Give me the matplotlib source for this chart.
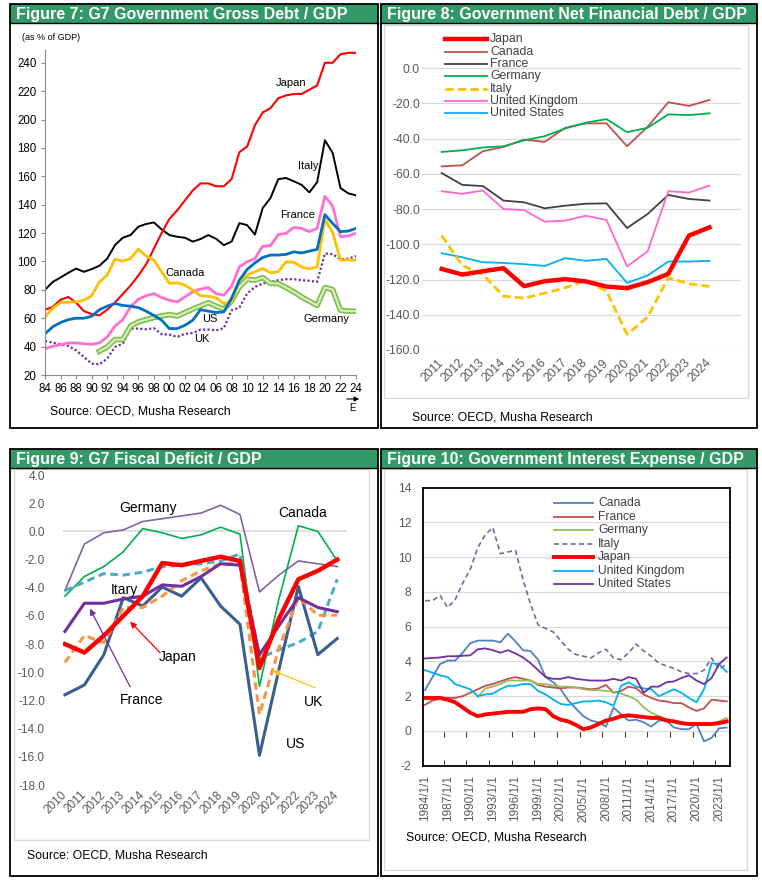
import numpy as np
import matplotlib
matplotlib.use("Agg")
import matplotlib.pyplot as plt
from matplotlib.patches import Rectangle
from matplotlib.lines import Line2D
import matplotlib.patheffects as pe

plt.rcParams["font.family"] = ["Liberation Sans", "DejaVu Sans"]
plt.rcParams["axes.unicode_minus"] = False

GREEN = "#339966"
GRID = "#D9D9D9"
TICK = "#595959"

# ---------------- data ----------------
# Figure 7: gross debt / GDP, 1984-2024
years7 = np.arange(1984, 2025)
japan7 = [66, 68, 73, 75, 71, 65, 63, 62, 66, 71, 77, 83, 90, 98,
          109, 120, 130, 136, 143, 150, 155, 155, 153, 153, 158, 177, 181, 196, 205,
          208, 215, 217, 218, 218, 221, 224, 240, 240, 246, 247, 247]
italy7 = [80, 85.6, 88.7, 92, 95, 92.7, 94.6, 97, 102, 111.5, 116.7, 118.6, 124.5, 126.4,
          127.5, 122.6, 118.6, 117.4, 116.7, 114, 115.8, 118.6, 116, 111.5, 114, 127, 125.6, 119,
          137.6, 144.7, 158, 158.8, 156.5, 154, 148.7, 155.8, 185.4, 176.5, 151.8, 148, 146.6]
canada7 = [61, 67, 71, 71.3, 71.5, 72.7, 75.8, 85.6, 90.4, 101.6,
           100.2, 102, 108.7, 103.8, 101, 92.7, 84.5, 85, 83.3, 79.8,
           75.8, 75.5, 74.4, 70.4, 71.5, 86.8, 90.4, 92.7, 95, 92,
           92.7, 99.8, 99.5, 96.2, 94.8, 96.2, 129.6, 120.5, 101, 101, 101]
us7 = [49, 54, 57, 59, 60, 60, 61.4, 66, 68.5, 70.4,
       69, 68.5, 67.5, 65, 62, 58.6, 52.7, 52.7, 55, 58.6,
       66, 65, 64, 64.5, 74, 86.8, 94.4, 99, 102.8, 104.5,
       104.5, 105, 106.8, 106, 107.3, 108.5, 133, 126.8, 121, 121.4, 123.3]
france7 = [38.6, 40.2, 41.4, 42.6, 42.6, 42, 41.6, 42.6, 46.8, 54.4,
           59, 68, 73.4, 75.8, 77.4, 74.6, 72.7, 71.5, 75, 78.6,
           80.5, 81.6, 77.4, 76.2, 82.6, 96.2, 99.8, 102, 110.8, 111,
           119, 119.8, 124, 123.3, 121, 123.3, 145.9, 139, 117.4, 118, 119.8]
germany7 = [np.nan] * 7 + [36.7, 39.8, 45, 45, 54.4, 57.4, 59, 60.5, 61.6, 62.6,
                           61.6, 64, 66.4, 68.7, 71, 68.5, 66.4, 72.2, 82, 87.5,
                           86.8, 88.7, 84.5, 84.5, 81.6, 78.6, 75, 72, 69, 81.6,
                           80.2, 65.6, 65, 65]
uk7 = [44, 42.8, 41.6, 40.5, 37.4, 32.7, 28, 27.5, 31.5, 39.8,
       42, 52.7, 52.7, 52.2, 53, 48.7, 48.5, 46.8, 49, 49.6,
       52, 52, 51.5, 53, 65.6, 67.5, 77.4, 82, 84.5, 85.6,
       86.8, 87.5, 87.5, 86.8, 86.4, 85.6, 105.6, 105.2, 101.4, 102, 103.8]

# Figure 8: net financial debt / GDP, 2011-2024
years8 = [str(y) for y in range(2011, 2025)]
japan8 = [-114, -117.2, -115.3, -113.6, -123.8, -121, -119.8, -121.1, -124, -124.9, -121.5, -116.8, -95.1, -90.4]
canada8 = [-55.8, -55.2, -47.2, -44.8, -40.6, -41.9, -33.9, -31.4, -31.4, -44.4, -33.3, -19.4, -21.5, -18.1]
france8 = [-59.6, -66.3, -67, -75.2, -76.2, -79.6, -78.1, -77, -76.8, -90.8, -82.8, -72, -74.3, -75.2]
germany8 = [-47.6, -46.7, -45.1, -44.4, -41, -38.7, -34.3, -31, -29, -36.4, -33.9, -26.3, -26.7, -25.7]
italy8 = [-95.1, -112.1, -117.2, -129.4, -130.6, -127.7, -124.7, -120.6, -126.6, -151.1, -141.3, -119, -122.4, -123.9]
uk8 = [-69.9, -71.4, -69.5, -80, -80.6, -87.2, -86.6, -83.8, -86.2, -112.6, -104, -69.9, -70.7, -66.7]
us8 = [-105.1, -107.4, -110.2, -110.6, -111.3, -112.3, -107.9, -109.4, -108.3, -121.9, -117.7, -109.8, -109.8, -109.4]

# Figure 9: fiscal balance / GDP, 2010-2024
years9 = [str(y) for y in range(2010, 2025)]
germany9 = [-4.2, -0.9, -0.1, 0.1, 0.7, 0.9, 1.1, 1.3, 1.85, 1.2, -4.3, -3.1, -2.1, -2.3, -2.5]
canada9 = [-4.6, -3.2, -2.5, -1.45, 0.2, -0.1, -0.5, -0.25, 0.3, -0.2, -11.0, -4.8, 0.4, 0.0, -2.1]
italy9 = [-4.2, -3.6, -3.0, -3.1, -2.9, -2.5, -2.4, -2.3, -2.1, -1.6, -9.0, -8.4, -7.9, -7.1, -3.4]
uk9 = [-9.3, -7.4, -7.9, -5.4, -5.4, -4.6, -3.5, -2.8, -2.3, -2.3, -13.0, -8.3, -4.7, -5.95, -5.95]
us9 = [-11.6, -10.9, -8.75, -4.7, -5.3, -3.95, -4.6, -3.3, -5.3, -6.6, -15.9, -9.8, -3.9, -8.75, -7.6]
france9 = [-7.1, -5.1, -5.1, -4.8, -4.6, -3.8, -3.9, -3.2, -2.3, -2.4, -8.75, -6.7, -4.7, -5.4, -5.7]
japan9 = [-8.0, -8.6, -7.4, -6.0, -4.6, -2.25, -2.4, -2.1, -1.8, -2.1, -9.7, -6.2, -3.4, -2.8, -2.0]

# Figure 10: interest expense / GDP, 1984-2024
years10 = np.arange(1984, 2025)
canada10 = [2.35, 3.1, 3.85, 4.05, 4.05, 4.5, 5.05, 5.2, 5.2, 5.2,
            5.1, 5.6, 5.15, 4.65, 4.6, 4.1, 3.1, 2.8, 2.4, 1.75,
            1.3, 0.85, 0.6, 0.5, 0.25, 1.35, 0.95, 0.6, 0.65, 0.5,
            0.25, 0.6, 0.6, 0.2, 0.1, 0.1, 0.4, -0.6, -0.4, 0.15, 0.2]
france10 = [1.5, 1.75, 1.85, 1.9, 1.9, 2.0, 2.2, 2.4, 2.6, 2.7,
            2.85, 3.0, 3.1, 3.0, 2.9, 2.65, 2.55, 2.5, 2.45, 2.5,
            2.5, 2.45, 2.4, 2.45, 2.65, 2.2, 2.3, 2.55, 2.45, 2.1,
            1.9, 1.75, 1.7, 1.6, 1.6, 1.35, 1.15, 1.3, 1.8, 1.75, 1.7]
germany10 = [np.nan] * 7 + [1.95, 2.45, 2.55, 2.7, 2.9, 2.9, 2.9, 2.9, 2.7, 2.7,
                            2.6, 2.55, 2.55, 2.5, 2.4, 2.35, 2.35, 2.3, 2.25, 2.15,
                            2.0, 1.8, 1.35, 1.05, 0.85, 0.7, 0.6, 0.5, 0.4, 0.35,
                            0.35, 0.4, 0.55, 0.75]
italy10 = [7.5, 7.5, 7.8, 7.1, 7.55, 8.5, 9.3, 10.55, 11.3, 11.7,
           10.2, 10.3, 10.4, 8.7, 7.3, 6.1, 5.9, 5.7, 5.2, 4.7,
           4.4, 4.3, 4.2, 4.5, 4.7, 4.2, 4.1, 4.5, 5.0, 4.6,
           4.3, 3.9, 3.75, 3.6, 3.4, 3.3, 3.3, 3.5, 4.2, 3.55, 3.85]
japan10 = [1.9, 1.9, 1.9, 1.8, 1.65, 1.35, 1.05, 0.85, 0.95, 1.0,
           1.05, 1.1, 1.1, 1.1, 1.25, 1.3, 1.25, 0.85, 0.65, 0.55,
           0.35, 0.1, 0.2, 0.4, 0.6, 0.7, 0.85, 0.9, 0.85, 0.8,
           0.75, 0.75, 0.6, 0.55, 0.45, 0.4, 0.4, 0.4, 0.4, 0.45, 0.55]
uk10 = [3.5, 3.35, 3.2, 3.1, 2.7, 2.55, 2.4, 2.0, 2.1, 2.15,
        2.4, 2.6, 2.6, 2.7, 2.7, 2.3, 2.1, 1.8, 1.55, 1.5,
        1.6, 1.7, 1.7, 1.75, 1.65, 1.45, 2.6, 2.8, 2.55, 2.45,
        2.4, 2.0, 2.2, 2.4, 2.2, 1.9, 1.65, 2.4, 3.9, 3.85, 3.4]
us10 = [4.17, 4.2, 4.23, 4.3, 4.3, 4.33, 4.35, 4.7, 4.75, 4.65,
        4.5, 4.65, 4.46, 4.23, 3.9, 3.5, 3.1, 3.0, 3.0, 3.1,
        3.0, 2.95, 2.9, 2.9, 2.9, 3.0, 2.9, 3.1, 3.0, 2.2,
        2.55, 2.55, 2.8, 2.85, 3.05, 3.2, 2.9, 2.7, 3.05, 3.85, 4.23]

# ---------------- layout helpers (pixel coords, origin top-left) ----------------
W, H = 762., 880.
fig = plt.figure(figsize=(W / 100, H / 100), dpi=100)


def box(l, t, r, b):
    return [l / W, 1 - b / H, (r - l) / W, (b - t) / H]


def fx(x):
    return x / W


def fy(y):
    return 1 - y / H


def rect(l, t, r, b, ec="none", lw=0, fc="none"):
    fig.add_artist(Rectangle((fx(l), fy(b)), (r - l) / W, (b - t) / H,
                             transform=fig.transFigure, fc=fc, ec=ec, lw=lw))


def panel(l, t, r, b, title):
    rect(l, t, r, t + 19, fc=GREEN)
    fig.add_artist(Line2D([fx(l), fx(r)], [fy(t + 19), fy(t + 19)],
                          transform=fig.transFigure, color="black", lw=1))
    rect(l, t, r, b, ec="black", lw=1.3)
    fig.text(fx(l + 6), fy(t + 10), title, color="white", fontsize=11.5,
             fontweight="bold", va="center", ha="left")


def legend_rows(entries, x0, x1, xt, y0, dy, size):
    for i, (label, st) in enumerate(entries):
        y = fy(y0 + i * dy)
        fig.add_artist(Line2D([fx(x0), fx(x1)], [y, y], transform=fig.transFigure, **st))
        fig.text(fx(xt), y, label, va="center", ha="left", fontsize=size, color="#404040")


def source(x, y):
    fig.text(fx(x), fy(y), "Source: OECD, Musha Research", fontsize=8.8,
             va="center", ha="left", color="black")


panel(9.5, 4.5, 378, 428, "Figure 7: G7 Government Gross Debt / GDP")
panel(381, 4.5, 757, 428, "Figure 8: Government Net Financial Debt / GDP")
panel(9.5, 449, 378, 875.5, "Figure 9: G7 Fiscal Deficit / GDP")
panel(381, 449, 757, 875.5, "Figure 10: Government Interest Expense / GDP")
rect(384, 25, 748, 398, ec=GRID, lw=1)
rect(14, 469, 369, 840, ec=GRID, lw=1)
rect(384, 469, 747, 870, ec=GRID, lw=1)

# ---------------- Figure 7 ----------------
ax7 = fig.add_axes(box(45, 50, 356, 375))
ax7.patch.set_alpha(0)
ax7.plot(years7, italy7, color="black", lw=1.4)
ax7.plot(years7, japan7, color="#FF0000", lw=1.5)
ax7.plot(years7, uk7, color="#7030A0", lw=1.6, ls=(0, (1, 1)))
ax7.plot(years7, germany7, color="#D6EEBB", lw=1.6,
         path_effects=[pe.Stroke(linewidth=4, foreground="#7DBE4B"), pe.Normal()])
ax7.plot(years7, france7, color="#FF6FCF", lw=2)
ax7.plot(years7, canada7, color="#FFC000", lw=2)
ax7.plot(years7, us7, color="#0070C0", lw=2)
ax7.set_xlim(1984, 2024)
ax7.set_ylim(20, 249)
ax7.set_xticks(years7[::2])
ax7.set_xticklabels([f"{y % 100:02d}" for y in years7[::2]])
ax7.set_yticks(np.arange(20, 241, 20))
for s in ["top", "right"]:
    ax7.spines[s].set_visible(False)
for s in ["left", "bottom"]:
    ax7.spines[s].set_color("#8C8C8C")
ax7.tick_params(labelsize=8.3, length=3, color="#8C8C8C", pad=3)
for txt, x, y in [("Japan", 2015.7, 225.6), ("Italy", 2017.8, 167), ("France", 2016.5, 133),
                  ("Canada", 2002, 91.8), ("US", 2005.2, 59.4), ("UK", 2004.2, 45.4),
                  ("Germany", 2020.2, 59.4)]:
    ax7.text(x, y, txt, fontsize=8, ha="center", va="center")
fig.text(fx(22), fy(38), "(as % of GDP)", fontsize=6.5, va="center", ha="left")
fig.text(fx(352), fy(408), "E", fontsize=7, va="center", ha="center")
fig.add_artist(matplotlib.patches.FancyArrowPatch((fx(344), fy(399)), (fx(362), fy(399)),
                                                  transform=fig.transFigure, arrowstyle="-|>",
                                                  mutation_scale=7, color="black", lw=0.8))
source(50, 411)

# ---------------- Figure 8 ----------------
st8 = {
    "Japan": dict(color="#FF0000", lw=3.2),
    "Canada": dict(color="#C0504D", lw=1.3),
    "France": dict(color="#404040", lw=1.3),
    "Germany": dict(color="#00B050", lw=1.3),
    "Italy": dict(color="#FFC000", lw=2.0, ls=(0, (3, 1.5))),
    "United Kingdom": dict(color="#FF66CC", lw=1.3),
    "United States": dict(color="#00B0F0", lw=1.3),
}
ax8 = fig.add_axes(box(422, 36.3, 741, 350))
ax8.patch.set_alpha(0)
x8 = np.arange(len(years8))
for name, vals in [("Canada", canada8), ("France", france8), ("Germany", germany8),
                   ("United Kingdom", uk8), ("United States", us8), ("Italy", italy8),
                   ("Japan", japan8)]:
    ax8.plot(x8, vals, **st8[name])
ax8.set_xlim(-0.956, 14.53)
ax8.set_ylim(-160, 18)
ax8.set_yticks(np.arange(-160, 1, 20))
ax8.set_yticklabels([f"{v:.1f}" for v in np.arange(-160, 1, 20)])
ax8.set_xticks(x8)
ax8.set_xticklabels(years8, rotation=45, ha="right", va="center", rotation_mode="anchor")
ax8.grid(axis="y", color=GRID, lw=0.9)
ax8.set_axisbelow(True)
for s in ax8.spines.values():
    s.set_visible(False)
ax8.tick_params(axis="y", length=0, labelsize=8.7, colors=TICK, pad=1.5)
ax8.tick_params(axis="x", length=0, labelsize=8.7, colors=TICK, pad=8)
legend_rows([(k, st8[k]) for k in ["Japan", "Canada", "France", "Germany", "Italy",
                                    "United Kingdom", "United States"]],
            445, 487, 490, 39.3, 12.33, 8.8)
source(412, 417)

# ---------------- Figure 9 ----------------
ax9 = fig.add_axes(box(63, 475, 347, 785))
ax9.patch.set_alpha(0)
x9 = np.arange(len(years9))
ax9.axhline(0, color=GRID, lw=1.2, zorder=1)
ax9.plot(x9, germany9, color="#8064A2", lw=1.2)
ax9.plot(x9, canada9, color="#00B050", lw=1.2)
ax9.plot(x9, italy9, color="#4BACC6", lw=2.2, ls=(0, (2.5, 1.5)))
ax9.plot(x9, us9, color="#3A5F8F", lw=2.2)
ax9.plot(x9, uk9, color="#F79646", lw=2.2, ls=(0, (2.5, 1.5)))
ax9.plot(x9, france9, color="#7030A0", lw=2.2)
ax9.plot(x9, japan9, color="#FF0000", lw=3.2)
ax9.set_xlim(-0.1, 14.5)
ax9.set_ylim(-18, 4)
ax9.set_yticks(np.arange(-18, 5, 2))
ax9.set_yticklabels([f"{v:.1f}" for v in np.arange(-18, 5, 2)])
ax9.set_xticks(x9)
ax9.set_xticklabels(years9, rotation=45, ha="right", va="center", rotation_mode="anchor")
for s in ax9.spines.values():
    s.set_visible(False)
ax9.tick_params(axis="y", length=0, labelsize=8.5, colors=TICK, pad=13)
ax9.tick_params(axis="x", length=0, labelsize=8.5, colors=TICK, pad=6)
for txt, x, y in [("Germany", 4.27, 1.68), ("Canada", 12.2, 1.33), ("Itary", 3.04, -4.14),
                  ("US", 11.84, -15.07)]:
    ax9.text(x, y, txt, fontsize=10, ha="center", va="center")
for txt, xt, yt, xa, ya, xh, yh, col in [
        ("Japan", 5.8, -8.9, 4.89, -8.61, 3.35, -6.41, "#FF0000"),
        ("France", 3.96, -11.95, 3.35, -11.03, 1.29, -5.49, "#7030A0"),
        ("UK", 12.8, -12.1, 12.87, -11.1, 10.7, -9.89, "#FFC000")]:
    ax9.text(xt, yt, txt, fontsize=10, ha="center", va="center")
    ax9.annotate("", xy=(xh, yh), xytext=(xa, ya),
                 arrowprops=dict(arrowstyle="-|>", color=col, lw=0.9, mutation_scale=9,
                                 shrinkA=0, shrinkB=0))
source(27, 855)

# ---------------- Figure 10 ----------------
st10 = {
    "Canada": dict(color="#4F81BD", lw=1.3),
    "France": dict(color="#C0504D", lw=1.3),
    "Germany": dict(color="#9BBB59", lw=1.3),
    "Italy": dict(color="#8064A2", lw=1.2, ls=(0, (3, 2))),
    "Japan": dict(color="#FF0000", lw=2.8),
    "United Kingdom": dict(color="#00B0F0", lw=1.3),
    "United States": dict(color="#7030A0", lw=1.3),
}
ax10 = fig.add_axes(box(422.7, 487.7, 730, 765.7))
ax10.patch.set_alpha(0)
x10 = np.arange(len(years10))
for name, vals in [("Italy", italy10), ("Canada", canada10), ("France", france10),
                   ("Germany", germany10), ("United Kingdom", uk10),
                   ("United States", us10), ("Japan", japan10)]:
    ax10.plot(x10, vals, **st10[name])
ax10.set_xlim(-0.3, 40.44)
ax10.set_ylim(-2, 14)
ax10.set_yticks(np.arange(-2, 15, 2))
ax10.set_xticks(x10[::3])
ax10.set_xticklabels([f"{y}/1/1" for y in years10[::3]], rotation=90, ha="center", va="top")
ax10.set_xticks(np.arange(2.5, 40, 3), minor=True)
ax10.grid(axis="y", color=GRID, lw=0.9)
ax10.set_axisbelow(True)
for s in ax10.spines.values():
    s.set_color("black")
    s.set_linewidth(1.3)
ax10.tick_params(axis="y", length=0, labelsize=8.8, colors=TICK, pad=8)
ax10.tick_params(axis="x", which="major", length=0, labelsize=8.5, colors=TICK, pad=7)
ax10.tick_params(axis="x", which="minor", direction="in", length=4, color="black")
ylo, yhi = ax10.get_ylim()
sec = ax10.secondary_xaxis((0 - ylo) / (yhi - ylo))
sec.set_xticks(np.arange(2.5, 40, 3))
sec.tick_params(length=4, direction="out", labelbottom=False, color="#404040")
for s in sec.spines.values():
    s.set_visible(False)
legend_rows([(k, st10[k]) for k in ["Canada", "France", "Germany", "Italy", "Japan",
                                     "United Kingdom", "United States"]],
            554, 593, 598, 503, 13.55, 8.7)
source(406, 837)

fig.savefig("out.png", dpi=100)
